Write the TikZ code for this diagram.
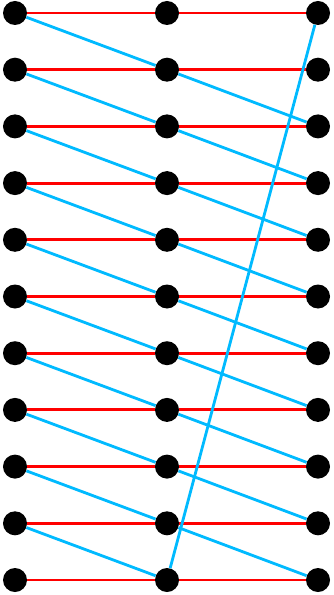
\documentclass[tikz,border=0pt]{standalone}
\usepackage{tikz}
\usetikzlibrary{arrows.meta,positioning,calc}
\definecolor{edgered}{RGB}{255,0,0}
\definecolor{edgeblue}{RGB}{0,186,255}

\begin{document}
\begin{tikzpicture}[
    x=0.03cm,y=-0.03cm,
    dot/.style={circle,fill=black,inner sep=0pt,minimum size=0.72cm},
    hedge/.style={edgered,line width=2.4pt},
    sedge/.style={edgeblue,line width=2.4pt},
]
    \path[use as bounding box] (0,0) rectangle (333,595);
    % three columns of eleven dots
    \foreach \i in {0,...,10} {
        \node[dot] (l\i) at (15,{13+56.7*\i}) {};
        \node[dot] (m\i) at (167,{13+56.7*\i}) {};
        \node[dot] (r\i) at (318,{13+56.7*\i}) {};
    }
    % horizontal edges
    \foreach \i in {0,...,10} {
        \draw[hedge] (l\i) -- (m\i);
        \draw[hedge] (m\i) -- (r\i);
    }
    % slanted edges
    \foreach \i [evaluate=\i as \j using int(\i+1)] in {0,...,9}
        \draw[sedge] (l\i) -- (m\j);
    \foreach \i [evaluate=\i as \j using int(\i+1)] in {1,...,9}
        \draw[sedge] (m\i) -- (r\j);
    \draw[sedge] (m10) -- (r0);
\end{tikzpicture}
\end{document}
